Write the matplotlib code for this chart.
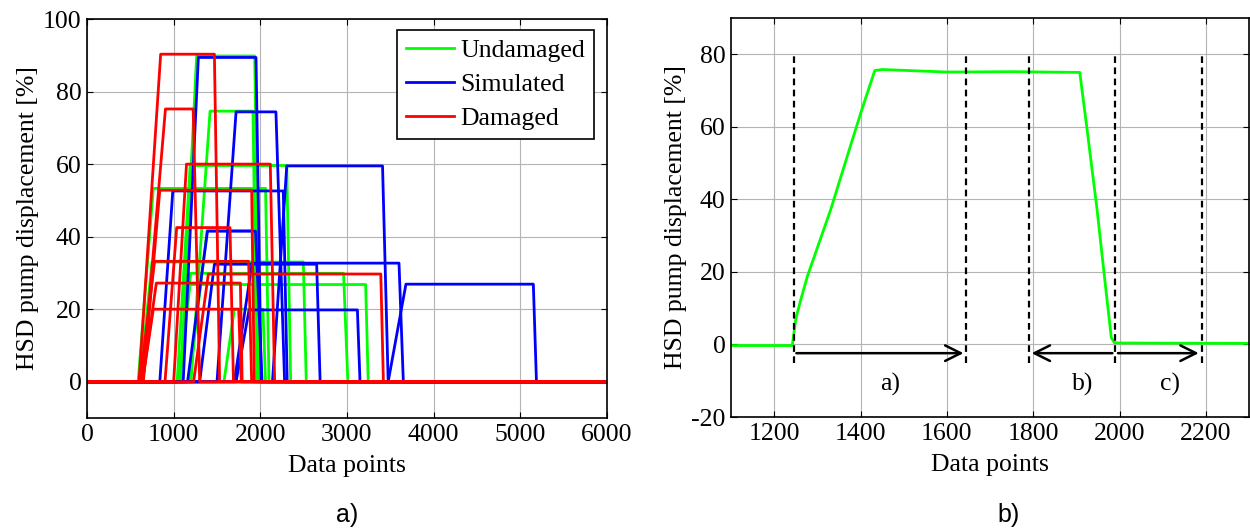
"""Pump displacement traces: (a) all runs, (b) one undamaged run with phases"""
import matplotlib
matplotlib.use('Agg')
import matplotlib.pyplot as plt

plt.rcParams['font.family'] = 'Liberation Serif'
plt.rcParams['font.size'] = 18.5
plt.rcParams['axes.unicode_minus'] = False

# ---- panel a) data: each trace = start, top reached, plateau end, back to zero, level
x_end = 6000

und_start = [1080, 1200, 1040, 590, 1180, 612, 1070, 1050, 1580]
und_top = [1265, 1420, 1190, 765, 1385, 750, 1195, 1190, 1700]
und_fall = [1935, 1915, 2305, 2060, 1905, 2496, 2960, 3215, 2030]
und_zero = [1990, 1960, 2350, 2100, 1985, 2530, 3010, 3245, 2060]
und_level = [89.8, 74.6, 59.6, 53.3, 41.7, 33.0, 29.9, 26.8, 20.0]

sim_start = [1110, 1500, 2140, 840, 1160, 1700, 1300, 3475, 1720]
sim_top = [1285, 1720, 2305, 990, 1390, 1905, 1470, 3680, 1870]
sim_fall = [1950, 2180, 3410, 2265, 1945, 3600, 2650, 5150, 3120]
sim_zero = [2010, 2280, 3475, 2310, 2020, 3650, 2690, 5186, 3150]
sim_level = [89.4, 74.4, 59.5, 52.6, 41.5, 32.7, 32.4, 26.9, 19.8]

dam_start = [600, 640, 1000, 650, 900, 610, 1230, 640, 640]
dam_top = [850, 905, 1148, 840, 1035, 780, 1400, 800, 765]
dam_fall = [1470, 1225, 2115, 1900, 1650, 1865, 3390, 1770, 1750]
dam_zero = [1530, 1300, 2165, 1930, 1690, 1900, 3420, 1790, 1780]
dam_level = [90.3, 75.2, 60.0, 52.8, 42.5, 33.2, 29.7, 27.2, 20.0]

# ---- panel b) data: one undamaged run
run_x = [1100, 1242, 1250, 1262, 1277, 1331, 1379, 1403, 1433, 1450, 1600, 1750,
         1908, 1924, 1948, 1965, 1981, 1988, 2000, 2300]
run_y = [-0.3, -0.3, 7.0, 12.5, 18.8, 37.2, 55.6, 64.7, 75.5, 75.8, 75.1, 75.2,
         75.0, 60.1, 37.2, 18.8, 1.9, 0.5, 0.4, 0.3]
phase_marks = [1245, 1645, 1790, 1990, 2190]
phase_names = ['a)', 'b)', 'c)']
phase_name_x = [1468, 1915, 2118]

fig = plt.figure(figsize=(12.5, 5.28), dpi=100)
ax1 = fig.add_axes([0.0696, 0.2083, 0.416, 0.7557])
ax2 = fig.add_axes([0.5848, 0.2102, 0.4144, 0.7557])


def style_axis(ax):
    ax.grid(True, color='#b4b4b4', linewidth=0.8)
    ax.set_axisbelow(True)
    ax.tick_params(direction='in', top=True, right=True, length=4, pad=4)
    for s in ax.spines.values():
        s.set_linewidth(1.2)
    ax.set_xlabel('Data points', labelpad=7)
    ax.set_ylabel('HSD pump displacement [%]', labelpad=3)


def draw_runs(ax, starts, tops, falls, zeros, levels, color, label):
    for i in range(len(levels)):
        xs = [0, starts[i], tops[i], falls[i], zeros[i], x_end]
        ys = [0, 0, levels[i], levels[i], 0, 0]
        ax.plot(xs, ys, color=color, linewidth=2.0, label=label if i == 0 else None)


draw_runs(ax1, und_start, und_top, und_fall, und_zero, und_level, '#00ff00', 'Undamaged')
draw_runs(ax1, sim_start, sim_top, sim_fall, sim_zero, sim_level, '#0000ff', 'Simulated')
draw_runs(ax1, dam_start, dam_top, dam_fall, dam_zero, dam_level, '#ff0000', 'Damaged')
ax1.set_xlim(0, 6000)
ax1.set_ylim(-10, 100)
ax1.set_xticks(range(0, 6001, 1000))
ax1.set_yticks(range(0, 101, 20))
style_axis(ax1)
leg = ax1.legend(loc='upper right', bbox_to_anchor=(0.985, 0.985), fancybox=False,
                 framealpha=1, edgecolor='black', borderpad=0.35, handlelength=1.85,
                 labelspacing=0.42, handletextpad=0.25, borderaxespad=0.2)
leg.get_frame().set_linewidth(1.2)

# panel b)
ax2.plot(run_x, run_y, color='#00ff00', linewidth=2.0)
for xm in phase_marks:
    ax2.plot([xm, xm], [-5, 80], color='black', linestyle='--', linewidth=1.6,
             dashes=(3, 2))
arrow_y = -2.4
arrow_kw = dict(arrowstyle='->', color='black', lw=1.8, mutation_scale=28)
ax2.annotate('', xy=(phase_marks[1], arrow_y), xytext=(phase_marks[0], arrow_y),
             arrowprops=arrow_kw)
ax2.annotate('', xy=(phase_marks[2], arrow_y), xytext=(phase_marks[3], arrow_y),
             arrowprops=arrow_kw)
ax2.annotate('', xy=(phase_marks[4], arrow_y), xytext=(phase_marks[3], arrow_y),
             arrowprops=arrow_kw)
for name, xn in zip(phase_names, phase_name_x):
    ax2.text(xn, -11, name, ha='center', va='center')
ax2.set_xlim(1100, 2300)
ax2.set_ylim(-20, 90)
ax2.set_xticks(range(1200, 2201, 200))
ax2.set_yticks(range(-20, 81, 20))
style_axis(ax2)

fig.text(347 / 1250, 1 - 515 / 528, 'a)', family='Liberation Sans', fontsize=18,
         ha='center', va='center')
fig.text(1009 / 1250, 1 - 515 / 528, 'b)', family='Liberation Sans', fontsize=18,
         ha='center', va='center')

fig.savefig('out.png', dpi=100)
print("[OK] out.png")
